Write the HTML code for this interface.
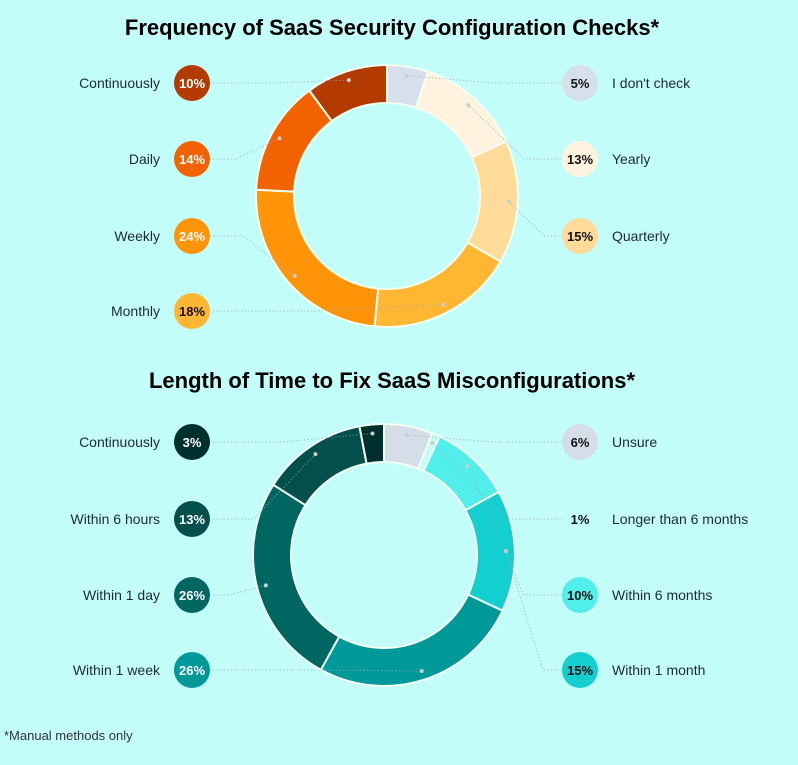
<!DOCTYPE html>
<html><head><meta charset="utf-8"><style>
body{margin:0;width:798px;height:765px;background:#c2fdf9;font-family:"Liberation Sans",sans-serif;overflow:hidden}
svg{display:block}
</style></head><body>
<svg id="s" width="798" height="765">
<text x="392" y="35" text-anchor="middle" font-size="22" font-weight="bold" fill="#000">Frequency of SaaS Security Configuration Checks*</text>
<text x="392" y="388" text-anchor="middle" font-size="22" font-weight="bold" fill="#000">Length of Time to Fix SaaS Misconfigurations*</text>
<text x="4" y="740" font-size="13" fill="#333">*Manual methods only</text>
</svg>
<script>
// Chart 1 (clockwise from top)
const c1Labels=["I don't check","Yearly","Quarterly","Monthly","Weekly","Daily","Continuously"];
const c1Values=[5,13,15,18,24,14,10];
const c1Colors=["#d6e0ea","#fff3e0","#ffdb99","#ffb733","#ff9408","#f26200","#b33a00"];
const c1Side=["r","r","r","l","l","l","l"];
const c1Text=["#111","#111","#111","#111","#fff","#fff","#fff"];
// Chart 2
const c2Labels=["Unsure","Longer than 6 months","Within 6 months","Within 1 month","Within 1 week","Within 1 day","Within 6 hours","Continuously"];
const c2Values=[6,1,10,15,26,26,13,3];
const c2Colors=["#d5dde8","#c2fdf9","#52eee9","#14cfcf","#00999a","#006661","#024f4c","#00302d"];
const c2Side=["r","r","r","r","l","l","l","l"];
const c2Text=["#111","#111","#111","#111","#fff","#fff","#fff","#fff"];
const NS="http://www.w3.org/2000/svg",S=document.getElementById('s');
function mk(t,a){const e=document.createElementNS(NS,t);for(const k in a)e.setAttribute(k,a[k]);S.appendChild(e);return e;}
function donut(labels,values,colors,side,tcol,cx,cy,rows,pfx){
  const tot=values.reduce((a,b)=>a+b,0);const R=131,r=93;let a0=0;
  const rr=[],ll=[];
  values.forEach((v,i)=>{
    const a1=a0+v/tot*2*Math.PI;
    const p=(a,rad)=>[cx+rad*Math.sin(a),cy-rad*Math.cos(a)];
    const [x1,y1]=p(a0,R),[x2,y2]=p(a1,R),[x3,y3]=p(a1,r),[x4,y4]=p(a0,r);
    const lg=(a1-a0)>Math.PI?1:0;
    const e=mk('path',{d:`M${x1},${y1}A${R},${R} 0 ${lg} 1 ${x2},${y2}L${x3},${y3}A${r},${r} 0 ${lg} 0 ${x4},${y4}Z`,fill:colors[i],stroke:'#f3fff0','stroke-width':2});
    
    
    const m=(a0+a1)/2;const [mx,my]=p(m,(R+r)/2+10);
    (side[i]=='r'?rr:ll).push({i,mx,my});
    a0=a1;
  });
  ll.reverse();
  const place=(arr,bx,lx,anchor)=>arr.forEach((o,k)=>{
    const y=rows[k];const i=o.i;
    mk('polyline',{points:`${bx},${y} ${(bx+o.mx)/2},${y} ${o.mx},${o.my}`,fill:'none',stroke:'#9ab',"stroke-width":1,"stroke-dasharray":"1.5 2",opacity:0.7});
    mk('circle',{cx:o.mx,cy:o.my,r:2,fill:'#ccc'});
    const c=mk('circle',{cx:bx,cy:y,r:18,fill:colors[i]});
    
    
    const t=mk('text',{x:bx,y:y+5,"text-anchor":"middle","font-size":13,"font-weight":"bold",fill:tcol[i]});t.textContent=values[i]+'%';
    
    
    const l=mk('text',{x:lx,y:y+5,"text-anchor":anchor,"font-size":14,fill:'#1b2a36'});l.textContent=labels[i];
    
    
  });
  place(rr,580,612,'start');place(ll,192,160,'end');
}
donut(c1Labels,c1Values,c1Colors,c1Side,c1Text,387,196,[83,159,236,311],'freq');
donut(c2Labels,c2Values,c2Colors,c2Side,c2Text,384,555,[442,519,595,670],'fix');
</script>
</body></html>
